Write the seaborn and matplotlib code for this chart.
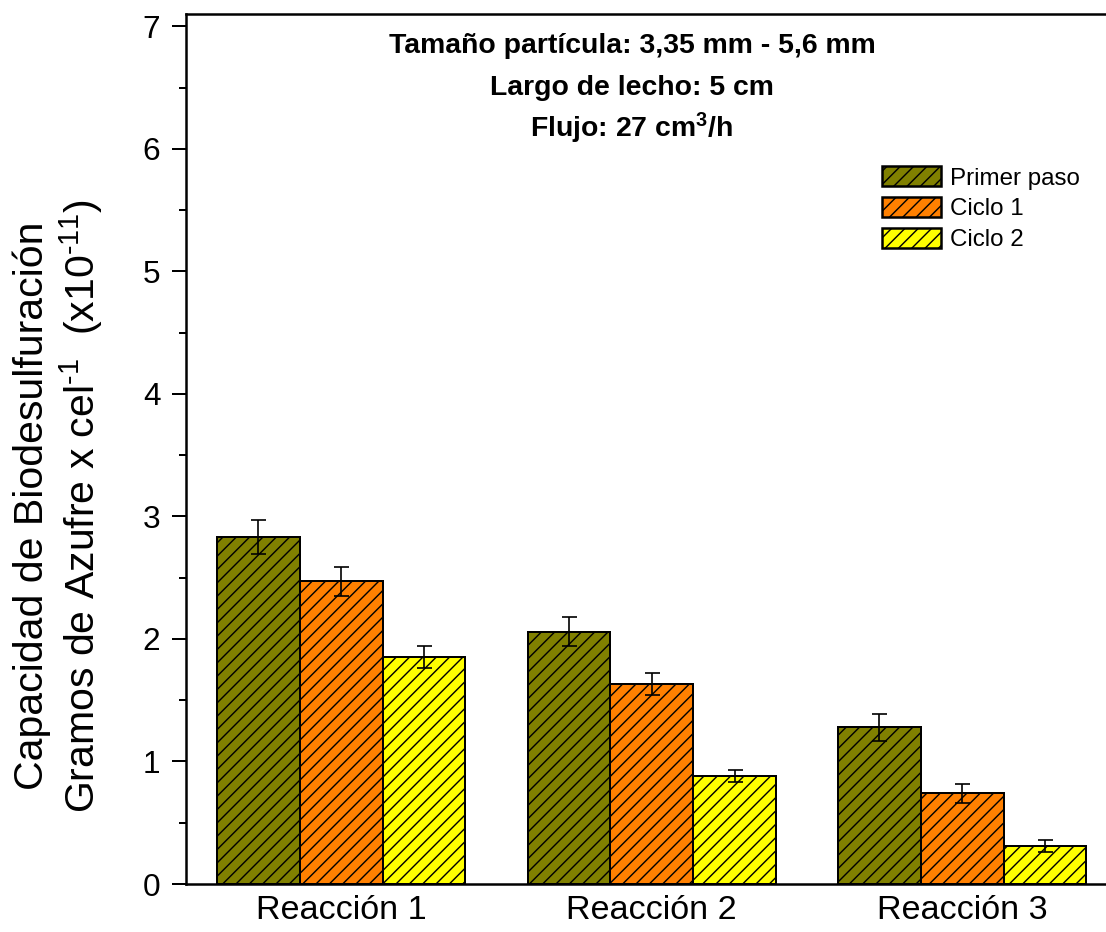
import matplotlib
matplotlib.use("Agg")
import matplotlib.pyplot as plt
from matplotlib.patches import Patch
from matplotlib.ticker import MultipleLocator
import seaborn as sns
import pandas as pd

# ---- data ----
reacciones = ["Reacción 1", "Reacción 2", "Reacción 3"]
series = ["Primer paso", "Ciclo 1", "Ciclo 2"]
primer_paso = [2.83, 2.06, 1.28]
ciclo_1 = [2.47, 1.63, 0.74]
ciclo_2 = [1.85, 0.88, 0.31]
err_primer = [0.14, 0.12, 0.11]
err_ciclo1 = [0.12, 0.09, 0.075]
err_ciclo2 = [0.09, 0.05, 0.05]
colores = ["#808000", "#FF8000", "#FFFF00"]

valores = [primer_paso, ciclo_1, ciclo_2]
errores = [err_primer, err_ciclo1, err_ciclo2]

df = pd.DataFrame({
    "Reacción": [r for s in series for r in reacciones],
    "Serie": [s for s in series for r in reacciones],
    "Valor": [v for vals in valores for v in vals],
})

sns.set_style("ticks")
plt.rcParams["font.family"] = ["Liberation Sans", "DejaVu Sans"]
plt.rcParams["mathtext.fontset"] = "custom"
plt.rcParams["mathtext.rm"] = "Liberation Sans"
plt.rcParams["mathtext.it"] = "Liberation Sans:italic"
plt.rcParams["mathtext.bf"] = "Liberation Sans:bold"
plt.rcParams["hatch.linewidth"] = 0.85
plt.rcParams["hatch.color"] = "black"
plt.rcParams["text.color"] = "black"
plt.rcParams["axes.labelcolor"] = "black"
plt.rcParams["xtick.color"] = "black"
plt.rcParams["ytick.color"] = "black"

HATCH = "///"

DPI = 120
W, H = 1106, 932
fig = plt.figure(figsize=(W / DPI, H / DPI), dpi=DPI)
ax = fig.add_axes([186 / W, 48 / H, 931.5 / W, 870 / H])

sns.barplot(data=df, x="Reacción", y="Valor", hue="Serie", hue_order=series,
            order=reacciones, palette=colores, edgecolor="black", linewidth=1.2,
            errorbar=None, width=0.8, legend=False, ax=ax, saturation=1)

for cont, errs in zip(ax.containers, errores):
    xs, ys = [], []
    for bar in cont:
        bar.set_hatch(HATCH)
        bar.set_edgecolor("black")
        xs.append(bar.get_x() + bar.get_width() / 2)
        ys.append(bar.get_height())
    ax.errorbar(xs, ys, yerr=errs, fmt="none", ecolor="black", elinewidth=1.0,
                capsize=4.5, capthick=1.0, zorder=5)

ax.set_xlim(-0.5, 2.5)
ax.set_ylim(0, 7.1)
ax.yaxis.set_major_locator(MultipleLocator(1))
ax.yaxis.set_minor_locator(MultipleLocator(0.5))
ax.tick_params(axis="y", which="major", direction="out", length=8.4, width=1.2,
               pad=7, labelsize=19, colors="black")
ax.tick_params(axis="y", which="minor", direction="out", length=4.2, width=1.2)
ax.tick_params(axis="x", which="both", length=0, pad=6.5, labelsize=20.5, colors="black")
ax.set_xlabel("")
ax.set_ylabel("")
for side in ["left", "top", "bottom"]:
    ax.spines[side].set_linewidth(1.5)
    ax.spines[side].set_color("black")
ax.spines["right"].set_visible(False)

# y-axis title (two lines)
fig.text(43 / W, 1 - 506 / H, "Capacidad de Biodesulfuración", rotation=90,
         rotation_mode="anchor", ha="center", va="baseline", fontsize=24.6)
fig.text(95 / W, 1 - 506 / H,
         "Gramos de Azufre x cel$^{\\mathrm{\u2010}\\mathrm{1}}$  (x10$^{\\mathrm{\u2010}\\mathrm{11}}$)",
         rotation=90, rotation_mode="anchor", ha="center", va="baseline", fontsize=24.6)

# annotation
cx = 632 / W
fig.text(cx, 1 - 53 / H, "Tamaño partícula: 3,35 mm - 5,6 mm", ha="center",
         va="baseline", fontsize=17, fontweight="bold")
fig.text(cx, 1 - 95 / H, "Largo de lecho: 5 cm", ha="center",
         va="baseline", fontsize=17, fontweight="bold")
fig.text(cx, 1 - 137 / H, r"Flujo: 27 cm$^{\mathbf{3}}$/h", ha="center",
         va="baseline", fontsize=17, fontweight="bold")

handles = [Patch(facecolor=c, edgecolor="black", hatch=HATCH, linewidth=1.5)
           for c in colores]
fig.legend(handles, series, loc="upper left",
           bbox_to_anchor=(882 / W, 1 - 166 / H), bbox_transform=fig.transFigure,
           frameon=False, fontsize=14.5, borderpad=0, borderaxespad=0,
           handlelength=2.45, handleheight=0.92, handletextpad=0.35,
           labelspacing=0.3)

fig.savefig("out.png", dpi=DPI)
